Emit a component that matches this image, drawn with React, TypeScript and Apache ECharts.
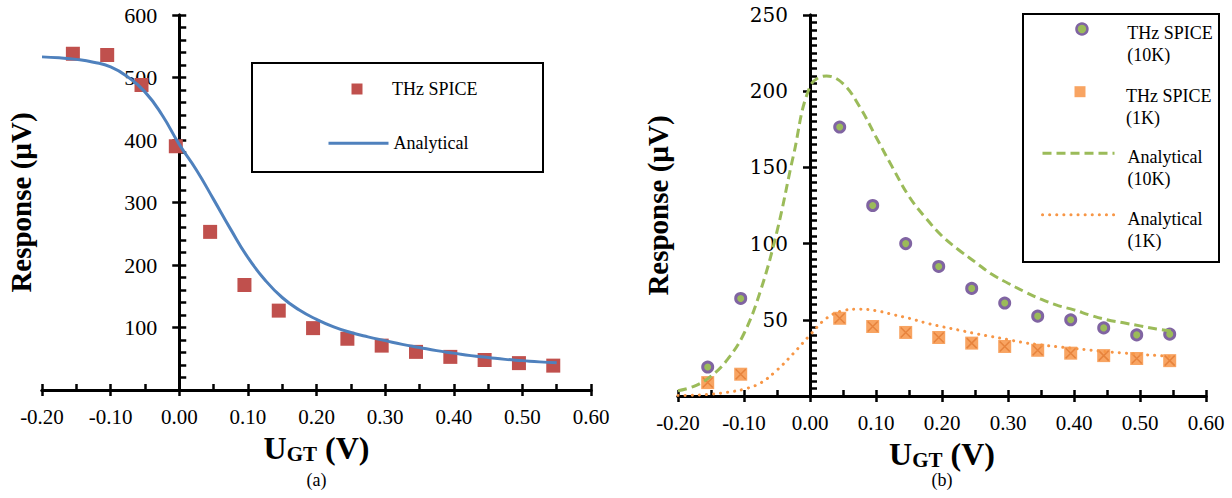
import React, { useEffect, useRef } from 'react';
import * as echarts from 'echarts';

// ---------- data ----------
const xRange = [-0.2, 0.6];
const yRangeA = [0, 600];
const yRangeB = [0, 250];

// (a) THz SPICE points
const spiceXA = [-0.155, -0.105, -0.055, -0.005, 0.045, 0.095, 0.145, 0.195, 0.245, 0.295, 0.345, 0.395, 0.445, 0.495, 0.545];
const spiceA = [538, 536, 488, 390, 253, 168, 127, 99, 82, 71, 61, 53, 48, 43, 39];

// analytical curves sampled along U_GT
const analyticX = [-0.2, -0.175, -0.15, -0.125, -0.1, -0.075, -0.05, -0.025, 0, 0.025, 0.05, 0.075, 0.1, 0.125, 0.15, 0.175, 0.2, 0.225, 0.25, 0.275, 0.3, 0.325, 0.35, 0.375, 0.4, 0.425, 0.45, 0.475, 0.5, 0.525, 0.55];
const analyticA = [533, 531.5, 529, 524.5, 517, 501, 477, 440, 393, 352, 305, 257, 212, 176, 148, 128, 113, 101, 92, 85, 79, 73, 68, 63, 59, 55, 52, 49, 47, 45, 43.5];
const analytic10K = [3.5, 6.5, 13, 24, 41, 69, 108, 158, 203, 210, 205, 190, 170, 150, 131, 117, 105, 96, 88, 80, 74, 68.5, 63.5, 59.5, 56.5, 53, 50, 48, 46, 44, 42.5];
const analytic1K = [0.3, 0.5, 1.2, 2.5, 4.5, 8.5, 17, 28, 40, 51, 56, 57, 56, 53.5, 51, 48, 45.5, 43.3, 41, 39, 37, 35, 33.5, 32.3, 31.2, 30.1, 29, 28.2, 27.3, 26.6, 25.8];

// (b) THz SPICE points
const spiceXB = [-0.155, -0.105, 0.045, 0.095, 0.145, 0.195, 0.245, 0.295, 0.345, 0.395, 0.445, 0.495, 0.545];
const spice10K = [19, 64, 176.5, 125, 100, 85, 70.6, 61, 52.4, 50, 44.7, 40.1, 40.6];
const spice1K = [8.8, 14.3, 51, 45.6, 41.7, 38.4, 34.7, 32.5, 30, 28.1, 26.5, 24.6, 23.2];

const namesA = ['THz SPICE', 'Analytical'];
const namesB = ['THz SPICE\n(10K)', 'THz SPICE\n(1K)', 'Analytical\n(10K)', 'Analytical\n(1K)'];
const panelLabels = ['(a)', '(b)'];

// ---------- styling ----------
const SERIF = '"Liberation Serif", "Times New Roman", Times, serif';
const SERIF2 = '"DejaVu Serif", "Liberation Serif", serif';
const GA = { left: 42, top: 15, width: 549, height: 375 };
const GB = { left: 678, top: 15, width: 528, height: 381 };

const zip = (xs: number[], ys: number[]) => xs.map((x, i) => [x, ys[i]]);
const fmtX = (v: number) => (Math.abs(v) < 1e-9 ? 0 : v).toFixed(2);
// pixel offset that puts the y axis on x = 0
const zeroOffset = (w: number) => -((0 - xRange[0]) / (xRange[1] - xRange[0])) * w;

const xName = '{u|U}{s|GT}{u| (V)}';
const xNameStyle = {
  rich: {
    u: { fontFamily: SERIF, fontSize: 32, fontWeight: 'bold', color: '#000', lineHeight: 36 },
    s: { fontFamily: SERIF, fontSize: 21, fontWeight: 'bold', color: '#000', lineHeight: 20, padding: [12, 0, 0, 0] },
  },
};

function makeX(gridIndex: number, nameGap: number) {
  const base = {
    type: 'value', gridIndex, min: xRange[0], max: xRange[1], interval: 0.1, position: 'bottom',
    splitLine: { show: false },
  };
  return [
    {
      ...base,
      axisLine: { show: true, onZero: false, lineStyle: { color: '#000', width: 3 } },
      axisTick: { show: true, inside: false, length: 6, lineStyle: { color: '#000', width: 2.5 } },
      minorTick: { show: false },
      axisLabel: { fontFamily: SERIF, fontSize: 21, color: '#000', margin: 16, formatter: (v: number) => fmtX(v) },
      name: xName, nameLocation: 'middle', nameGap, nameTextStyle: xNameStyle,
    },
    {
      ...base,
      axisLine: { show: true, onZero: false, lineStyle: { color: '#000', width: 3 } },
      axisTick: { show: true, inside: true, length: 6, lineStyle: { color: '#000', width: 2.5 } },
      minorTick: { show: true, splitNumber: 2, length: 6, lineStyle: { color: '#000', width: 2.5 } },
      axisLabel: { show: false },
    },
  ];
}

function makeY(gridIndex: number, gridW: number, range: number[], interval: number, minorSplit: number, font: string, fontSize: number, gap: number) {
  const base = {
    type: 'value', gridIndex, min: range[0], max: range[1], interval, position: 'left',
    offset: zeroOffset(gridW), splitLine: { show: false },
  };
  return [
    {
      ...base,
      axisLine: { show: true, onZero: false, lineStyle: { color: '#000', width: 3 } },
      axisTick: { show: true, inside: false, length: 7, lineStyle: { color: '#000', width: 2.5 } },
      minorTick: { show: false },
      axisLabel: { fontFamily: font, fontSize, color: '#000', margin: 22, formatter: (v: number) => (v === 0 ? '' : String(v)) },
      name: 'Response (µV)', nameLocation: 'middle', nameGap: gap,
      nameTextStyle: { fontFamily: SERIF, fontSize: 29, fontWeight: 'bold', color: '#000' },
    },
    {
      ...base,
      axisLine: { show: true, onZero: false, lineStyle: { color: '#000', width: 3 } },
      axisTick: { show: true, inside: true, length: 7, lineStyle: { color: '#000', width: 2.5 } },
      minorTick: { show: true, splitNumber: minorSplit, length: 7, lineStyle: { color: '#000', width: 2.5 } },
      axisLabel: { show: false },
    },
  ];
}

// legend text helpers (rich text lets us offset the label from the icon)
const legRich = (gapW: number) => ({
  fontFamily: SERIF, fontSize: 18, color: '#000',
  rich: {
    a: { fontFamily: SERIF, fontSize: 18, color: '#000', lineHeight: 22 },
    one: { fontFamily: SERIF, fontSize: 18, color: '#000', lineHeight: 20 },
    g: { width: gapW, fontSize: 18, lineHeight: 22 },
    sp: { fontSize: 18, lineHeight: 30 },
  },
});
const fmtOne = (gapW: number) => (name: string) => (gapW > 0 ? `{g| }{one|${name}}` : `{one|${name}}`);
const fmtTwo = (gapW: number) => (name: string) =>
  '{sp| }\n' + name.split('\n').map((s) => (gapW > 0 ? `{g| }{a|${s}}` : `{a|${s}}`)).join('\n');
const hideDot = { color: 'rgba(0,0,0,0)', borderWidth: 0, opacity: 0 };

export default function App() {
  const ref = useRef<HTMLDivElement>(null);
  useEffect(() => {
    if (!ref.current) return;
    const chart = echarts.init(ref.current, undefined, { renderer: 'svg' });
    const option: any = {
      animation: false,
      backgroundColor: '#fff',
      grid: [
        { ...GA, containLabel: false, outerBoundsMode: 'none' },
        { ...GB, containLabel: false, outerBoundsMode: 'none' },
      ],
      xAxis: [...makeX(0, 25), ...makeX(1, 14)],
      yAxis: [
        ...makeY(0, GA.width, yRangeA, 100, 5, SERIF, 22, 144),
        ...makeY(1, GB.width, yRangeB, 50, 10, SERIF2, 20, 138),
      ],
      legend: [
        { data: [namesA[0]], left: 351.5, top: 80, padding: 0, itemWidth: 11, itemHeight: 11, textStyle: legRich(24.5), formatter: fmtOne(24.5) },
        { data: [namesA[1]], left: 327, top: 134.3, padding: 0, itemWidth: 60, itemHeight: 11, textStyle: legRich(0), formatter: fmtOne(0), lineStyle: { width: 3 }, itemStyle: hideDot },
        { data: [namesB[0]], left: 1075.2, top: -2, padding: 0, itemWidth: 11, itemHeight: 11, textStyle: legRich(34.8), formatter: fmtTwo(34.8), itemStyle: { borderWidth: 2.5 } },
        { data: [namesB[1]], left: 1074.5, top: 60.7, padding: 0, itemWidth: 11, itemHeight: 11, textStyle: legRich(35.5), formatter: fmtTwo(35.5) },
        { data: [namesB[2]], left: 1041, top: 122.3, padding: 0, itemWidth: 72, itemHeight: 11, textStyle: legRich(8), formatter: fmtTwo(8), lineStyle: { width: 3 }, itemStyle: hideDot },
        { data: [namesB[3]], left: 1041, top: 183.7, padding: 0, itemWidth: 72, itemHeight: 11, textStyle: legRich(8), formatter: fmtTwo(8), lineStyle: { width: 3 }, itemStyle: hideDot },
      ],
      graphic: [
        { type: 'rect', shape: { x: 252, y: 63, width: 291, height: 109 }, style: { fill: 'none', stroke: '#000', lineWidth: 2 }, silent: true },
        { type: 'rect', shape: { x: 1023, y: 14, width: 196, height: 248 }, style: { fill: 'none', stroke: '#000', lineWidth: 2 }, silent: true },
        { type: 'text', x: GA.left + GA.width / 2, y: 480, style: { text: panelLabels[0], font: `18px ${SERIF}`, fill: '#000', align: 'center', verticalAlign: 'middle' } },
        { type: 'text', x: GB.left + GB.width / 2, y: 480, style: { text: panelLabels[1], font: `18px ${SERIF}`, fill: '#000', align: 'center', verticalAlign: 'middle' } },
      ],
      series: [
        {
          name: namesA[0], type: 'scatter', xAxisIndex: 0, yAxisIndex: 0, data: zip(spiceXA, spiceA),
          symbol: 'rect', symbolSize: 14, itemStyle: { color: '#C0504D', opacity: 1 },
        },
        {
          name: namesA[1], type: 'line', xAxisIndex: 0, yAxisIndex: 0, data: zip(analyticX, analyticA),
          smooth: 0.5, showSymbol: false, symbol: 'none', lineStyle: { color: '#4F81BD', width: 3 }, itemStyle: { color: '#4F81BD' },
        },
        {
          name: namesB[2], type: 'line', xAxisIndex: 2, yAxisIndex: 2, data: zip(analyticX, analytic10K),
          smooth: 0.4, showSymbol: false, symbol: 'none', lineStyle: { color: '#9BBB59', width: 3, type: [9, 5] }, itemStyle: { color: '#9BBB59' },
        },
        {
          name: namesB[3], type: 'line', xAxisIndex: 2, yAxisIndex: 2, data: zip(analyticX, analytic1K),
          smooth: 0.4, showSymbol: false, symbol: 'none', lineStyle: { color: '#F79646', width: 3, type: [0.1, 7], cap: 'round' }, itemStyle: { color: '#F79646' },
        },
        {
          name: namesB[1], type: 'scatter', xAxisIndex: 2, yAxisIndex: 2, data: zip(spiceXB, spice1K),
          symbol: 'rect', symbolSize: 13, itemStyle: { color: '#F8A462', opacity: 1 },
        },
        {
          name: 'THz SPICE 1K cross', type: 'scatter', xAxisIndex: 2, yAxisIndex: 2, data: zip(spiceXB, spice1K),
          symbol: 'path://M0,0L10,10M10,0L0,10', symbolSize: 10, itemStyle: { color: 'none', borderColor: '#E27A33', borderWidth: 1.5 },
        },
        {
          name: namesB[0], type: 'scatter', xAxisIndex: 2, yAxisIndex: 2, data: zip(spiceXB, spice10K),
          symbol: 'circle', symbolSize: 10, itemStyle: { color: '#9BBB59', borderColor: '#8064A2', borderWidth: 3, opacity: 1 },
        },
      ],
    };
    chart.setOption(option);
    return () => chart.dispose();
  }, []);
  return <div ref={ref} style={{ position: 'fixed', left: 0, top: 0, width: 1232, height: 498, background: '#fff' }} />;
}
